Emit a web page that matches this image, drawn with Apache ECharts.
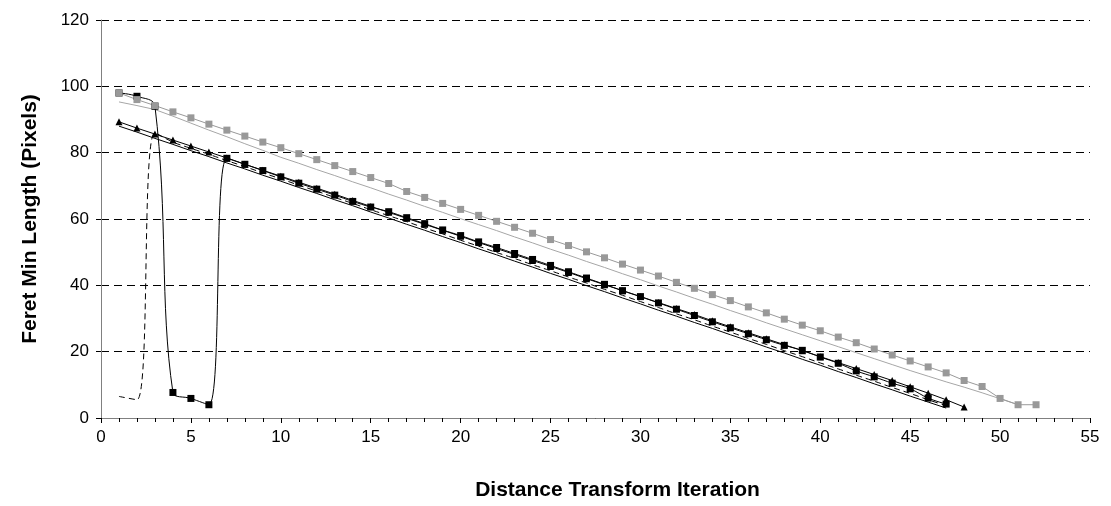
<!DOCTYPE html>
<html>
<head>
<meta charset="utf-8">
<script src="https://cdn.jsdelivr.net/npm/echarts@6/dist/echarts.min.js"></script>
<style>
html, body { margin: 0; padding: 0; background: #fff; }
#main { width: 1111px; height: 506px; }
</style>
</head>
<body>
<div id="main"></div>
<script>
// iteration numbers (x)
var iterations = [1,2,3,4,5,6,7,8,9,10,11,12,13,14,15,16,17,18,19,20,21,22,23,24,25,26,
	27,28,29,30,31,32,33,34,35,36,37,38,39,40,41,42,43,44,45,46,47,48,49,50,51,52];

// gray, square markers
var grayMarked = [98,96,94.2,92.3,90.5,88.6,86.8,85,83.2,81.5,79.7,77.9,76.1,74.3,72.5,70.7,68.3,
	66.5,64.7,62.9,61.1,59.3,57.5,55.7,53.8,52,50.1,48.3,46.4,44.6,42.8,40.9,39.1,37.2,35.4,
	33.5,31.7,29.8,28,26.3,24.4,22.7,20.8,19,17.2,15.4,13.6,11.3,9.5,5.9,4,4];
// gray, plain line
var grayPlain = [95.3,94.2,93,91,88.9,86.8,84.8,82.7,80.7,78.6,76.8,74.9,73.1,71.2,69.4,67.5,65.7,
	63.8,62,60.1,58.3,56.5,54.6,52.8,50.9,49.1,47.2,45.4,43.5,41.7,39.8,38,36.1,34.3,32.4,
	30.6,28.7,26.9,25.1,23.3,21.5,19.7,17.9,16.1,14.3,12.6,10.9,9.3,7.6,5.8,4];
// black, triangle markers
var blackTriangle = [89.3,87.4,85.6,83.8,82,80.2,78.4,76.5,74.7,72.9,71.1,69.3,67.5,65.6,63.8,62,
	60.2,58.4,56.6,54.8,52.9,51.1,49.3,47.5,45.7,43.9,42,40.2,38.4,36.6,34.8,33,31.2,29.3,
	27.5,25.7,23.9,22.1,20.3,18.5,16.7,14.9,13.1,11.3,9.4,7.5,5.5,3.3];
// black, square markers (smoothed)
var blackSquare = [98,97,94,7.7,5.9,4,78.3,76.5,74.6,72.7,70.8,69,67.2,65.3,63.6,62.2,60.4,58.6,
	56.7,55,53.1,51.4,49.6,47.8,46,44.1,42.2,40.3,38.4,36.6,34.7,32.8,30.9,29,27.2,25.4,
	23.6,21.9,20.4,18.4,16.5,14.2,12.4,10.5,8.8,6,4.2];
// black, plain line
var blackPlain = [88,86.2,84.3,82.5,80.6,78.8,76.9,75.1,73.2,71.4,69.5,67.7,65.8,64,62.1,60.3,
	58.4,56.6,54.7,52.9,51,49.2,47.3,45.5,43.6,41.8,39.9,38.1,36.2,34.4,32.5,30.7,28.8,27,
	25.1,23.3,21.4,19.6,17.7,15.9,14,12.2,10.3,8.5,6.6,4.8,3];
// black, dashed (smoothed)
var blackDashed = [6.5,5.5,86,83.2,81.3,79.5,77.6,75.8,73.9,72.1,70.2,68.4,66.5,64.7,62.8,61,
	59.2,57.3,55.5,53.6,51.8,49.9,48.1,46.2,44.4,42.5,40.7,38.8,37,35.1,33.3,31.4,29.6,27.7,
	25.9,24,22.2,20.3,18.5,16.6,14.8,12.9,11.1,9.2,7.4,5.5,3.7];

var yTicks = [0,20,40,60,80,100,120];
var xTicks = [0,5,10,15,20,25,30,35,40,45,50,55];

function pairs(values){
	var out = [];
	for(var i = 0; i < values.length; i++){
		out.push([iterations[i], values[i]]);
	}
	return out;
}

var myChart = echarts.init(document.getElementById('main'));
var font = 'Liberation Sans, Arial, sans-serif';

var option = {
	animation: false,
	grid: { left: 101, right: 21, top: 20, bottom: 86 },
	xAxis: {
		type: 'value',
		min: xTicks[0],
		max: xTicks[xTicks.length - 1],
		interval: 5,
		name: 'Distance Transform Iteration',
		nameLocation: 'middle',
		nameGap: 62,
		// title sits a little right of the plot centre in the original
		nameTextStyle: { fontFamily: font, fontSize: 21, fontWeight: 'bold', color: '#000', padding: [0, 0, 0, 44] },
		axisLine: { show: true, onZero: false, lineStyle: { color: '#808080', width: 1 } },
		axisTick: { show: true, length: 5, lineStyle: { color: '#000' } },
		minorTick: { show: true, splitNumber: 5, length: 4, lineStyle: { color: '#000' } },
		axisLabel: { fontFamily: font, fontSize: 17, color: '#000', margin: 11 },
		splitLine: { show: false }
	},
	yAxis: {
		type: 'value',
		min: yTicks[0],
		max: yTicks[yTicks.length - 1],
		interval: 20,
		name: 'Feret Min Length (Pixels)',
		nameLocation: 'middle',
		nameGap: 60,
		nameTextStyle: { fontFamily: font, fontSize: 21, fontWeight: 'bold', color: '#000' },
		axisLine: { show: true, lineStyle: { color: '#808080', width: 1 } },
		axisTick: { show: true, length: 5, lineStyle: { color: '#000' } },
		axisLabel: { fontFamily: font, fontSize: 17, color: '#000', margin: 12 },
		splitLine: { show: true, lineStyle: { color: '#000', type: [8, 5], width: 1 } }
	},
	series: [
		{
			name: 'gray plain',
			type: 'line',
			data: pairs(grayPlain),
			symbol: 'none',
			lineStyle: { color: '#a6a6a6', width: 1 }
		},
		{
			name: 'black plain',
			type: 'line',
			data: pairs(blackPlain),
			symbol: 'none',
			lineStyle: { color: '#000', width: 1 }
		},
		{
			name: 'black dashed',
			type: 'line',
			data: pairs(blackDashed),
			symbol: 'none',
			smooth: 0.4,
			lineStyle: { color: '#000', width: 1, type: [6, 4] }
		},
		{
			name: 'black triangle',
			type: 'line',
			data: pairs(blackTriangle),
			symbol: 'triangle',
			symbolSize: 7,
			itemStyle: { color: '#000' },
			lineStyle: { color: '#000', width: 1 }
		},
		{
			name: 'black square',
			type: 'line',
			data: pairs(blackSquare),
			symbol: 'rect',
			symbolSize: 7,
			smooth: 0.4,
			itemStyle: { color: '#000' },
			lineStyle: { color: '#000', width: 1 }
		},
		{
			name: 'gray square',
			type: 'line',
			data: pairs(grayMarked),
			symbol: 'rect',
			symbolSize: 7,
			itemStyle: { color: '#999999' },
			lineStyle: { color: '#999999', width: 1 }
		}
	]
};
myChart.setOption(option);
</script>
</body>
</html>
